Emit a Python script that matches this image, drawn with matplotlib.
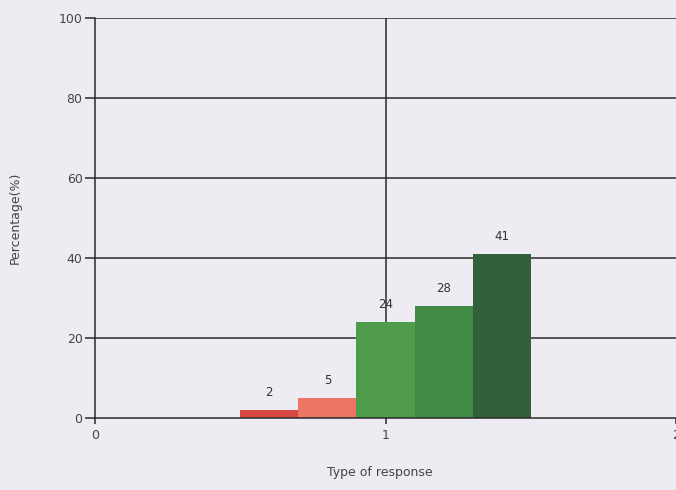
import matplotlib
matplotlib.use("Agg")
import matplotlib.pyplot as plt

positions = [0.6, 0.8, 1.0, 1.2, 1.4]
values = [2, 5, 24, 28, 41]
labels = ["2", "5", "24", "28", "41"]
colors = ["#d8473f", "#ec7564", "#4e9b4c", "#418a44", "#32603a"]
yticks = [0, 20, 40, 60, 80, 100]
xticks = [0, 1, 2]

bg = "#eeebf3"
fig = plt.figure(figsize=(6.76, 4.90), dpi=100, facecolor=bg)
ax = fig.add_axes([95/676, 72/490, 581/676, 400/490], facecolor=bg)

ax.set_xlim(0, 581/291)
ax.set_ylim(0, 100)

for y in yticks[1:]:
    ax.axhline(y, color="#2a2a2a", lw=1.1, zorder=1)
ax.axvline(1, color="#2a2a2a", lw=1.1, zorder=1)

bars = ax.bar(positions, values, width=0.2, color=colors, zorder=2)
for p, v, l in zip(positions, values, labels):
    ax.text(p, v + 2.8, l, ha="center", va="bottom", fontsize=8.5, color="#333333")

for s in ["top", "right"]:
    ax.spines[s].set_visible(False)
for s in ["left", "bottom"]:
    ax.spines[s].set_color("#2a2a2a")
    ax.spines[s].set_linewidth(1.1)

ax.set_yticks(yticks)
ax.set_xticks(xticks)
ax.tick_params(axis="y", length=7, width=1.1, color="#2a2a2a", labelsize=9, labelcolor="#444444", pad=2)
ax.tick_params(axis="x", length=4, width=1.1, color="#2a2a2a", labelsize=9, labelcolor="#444444", pad=4)

ax.set_ylabel("Percentage(%)", fontsize=9, color="#444444")
ax.yaxis.set_label_coords(-73/581, 0.5)
ax.set_xlabel("Type of response", fontsize=9, color="#444444")
ax.xaxis.set_label_coords(285/581, -48/400)

fig.savefig("out.png", dpi=100, facecolor=bg)
